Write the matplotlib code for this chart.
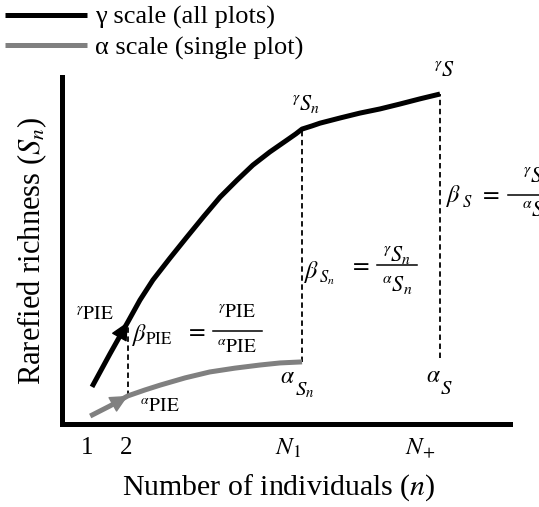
import matplotlib.pyplot as plt

plt.rcParams['font.family'] = ['Liberation Serif', 'DejaVu Serif']
plt.rcParams['mathtext.fontset'] = 'stix'

# schematic rarefaction curves, both axes in arbitrary 0-100 units
n_gamma = [6.7, 10.7, 14.7, 17.4, 20.3, 24.1, 27.9, 31.7, 35.3, 39.1, 42.6, 46.4,
           50.2, 52.2, 53.6, 55.8, 57.6, 62.1, 66.5, 71.0, 75.4, 79.9, 84.4]
s_gamma = [10.7, 20.2, 29.4, 35.7, 41.5, 47.8, 53.9, 59.9, 65.4, 70.3, 74.6, 78.4,
           81.8, 83.6, 85.0, 85.9, 86.7, 88.2, 89.6, 90.8, 92.2, 93.7, 95.1]
n_alpha = [6.3, 10.7, 14.7, 18.5, 21.9, 27.5, 33.0, 38.6, 44.2, 48.7, 53.6]
s_alpha = [2.3, 5.2, 8.1, 9.8, 11.2, 13.3, 15.0, 16.1, 17.0, 17.6, 17.9]

# dashed drop lines at n = 2, N1, N+
n_marks = [14.7, 53.6, 84.4]
s_low = [8.1, 17.9, 19.0]
s_high = [29.4, 85.0, 95.1]

tick_pos = [5.6, 14.3, 50.4, 79.9]
tick_labels = ['1', '2', '$N_1$', '$N_{+}$']

# point labels: (text, x, y, size)
labels = [
    (r'${}^{\gamma}\mathrm{PIE}$', 7.4, 31.4, 14),
    (r'${}^{\alpha}\mathrm{PIE}$', 21.9, 4.9, 14),
    (r'${}^{\gamma}S_n$', 54.5, 92.2, 16),
    (r'${}^{\gamma}S$', 85.3, 101.7, 16),
    (r'$\alpha$', 50.3, 13.5, 17),
    (r'$S_n$', 54.2, 9.8, 15),
    (r'$\alpha$', 83.0, 13.8, 17),
    (r'$S$', 85.8, 9.8, 15),
    # beta symbols with their subscripts
    (r'$\beta$', 55.7, 43.8, 17.5),
    (r'$S_n$', 59.2, 42.0, 12),
    (r'$\beta$', 87.5, 65.7, 17.5),
    (r'$S$', 90.4, 63.8, 12),
]

# beta ratios: '=' x, bar x0, bar x1, bar y, numerator, num y, denominator, den y, size
ratios = [
    (29.7, 33.7, 44.6, 26.8, r'${}^{\gamma}\mathrm{PIE}$', 32.0, r'${}^{\alpha}\mathrm{PIE}$', 21.9, 14),
    (66.3, 70.3, 79.2, 45.8, r'${}^{\gamma}S_n$', 48.7, r'${}^{\alpha}S_n$', 40.2, 16),
    (95.5, 99.6, 111.0, 66.0, r'${}^{\gamma}S$', 70.9, r'${}^{\alpha}S$', 61.1, 16),
]

fig = plt.figure(figsize=(5.39, 5.07), dpi=100)
ax = fig.add_axes([0.115, 0.1637, 0.831, 0.6844])
ax.set_xlim(0, 100)
ax.set_ylim(0, 100)

for x, lo, hi in zip(n_marks, s_low, s_high):
    ax.plot([x, x], [lo, hi], color='black', lw=1.3, ls=(0, (3, 2)), zorder=1)

ax.plot(n_gamma, s_gamma, color='black', lw=3.6, solid_capstyle='butt',
        solid_joinstyle='round', label='γ scale (all plots)', zorder=3)
ax.plot(n_alpha, s_alpha, color='#808080', lw=3.6, solid_capstyle='butt',
        solid_joinstyle='round', label='α scale (single plot)', zorder=2)

for xs, ys, col in [(n_gamma, s_gamma, 'black'), (n_alpha, s_alpha, '#808080')]:
    ax.annotate('', xy=(xs[2], ys[2]), xytext=(xs[1], ys[1]),
                arrowprops=dict(arrowstyle='-|>,head_length=0.45,head_width=0.22',
                                color=col, lw=1, mutation_scale=25, shrinkA=0, shrinkB=0),
                zorder=4)

for txt, x, y, size in labels:
    ax.text(x, y, txt, fontsize=size, ha='center', va='center', clip_on=False)

# beta_PIE keeps the mathtext subscript
ax.text(15.6, 25.6, r'$\beta_{\mathrm{PIE}}$', fontsize=17.5, ha='left', va='center')

for ex, bx0, bx1, by, num, ny, den, dy, fs in ratios:
    ax.text(ex, by, '$=$', fontsize=17.5, ha='center', va='center', clip_on=False)
    ax.plot([bx0, bx1], [by, by], color='black', lw=1.1, clip_on=False)
    bxm = (bx0 + bx1) / 2
    ax.text(bxm, ny, num, fontsize=fs, ha='center', va='center', clip_on=False)
    ax.text(bxm, dy, den, fontsize=fs, ha='center', va='center', clip_on=False)

for side in ['top', 'right']:
    ax.spines[side].set_visible(False)
for side in ['left', 'bottom']:
    ax.spines[side].set_linewidth(3.6)

ax.set_yticks([])
ax.set_xticks(tick_pos)
ax.set_xticklabels(tick_labels, fontsize=18)
ax.tick_params(axis='x', length=0, pad=9)
ax.set_xlabel('Number of individuals ($n$)', fontsize=21.5)
ax.xaxis.set_label_coords(0.484, -0.14)
ax.set_ylabel('Rarefied richness ($S_n$)', fontsize=22, labelpad=9)

ax.legend(loc='upper left', bbox_to_anchor=(0.0, 1.0), bbox_transform=fig.transFigure,
          frameon=False, fontsize=19, handlelength=3.1, handletextpad=0.3,
          labelspacing=0.25, borderaxespad=0.0, borderpad=0.2)

fig.savefig('out.png', dpi=100)
